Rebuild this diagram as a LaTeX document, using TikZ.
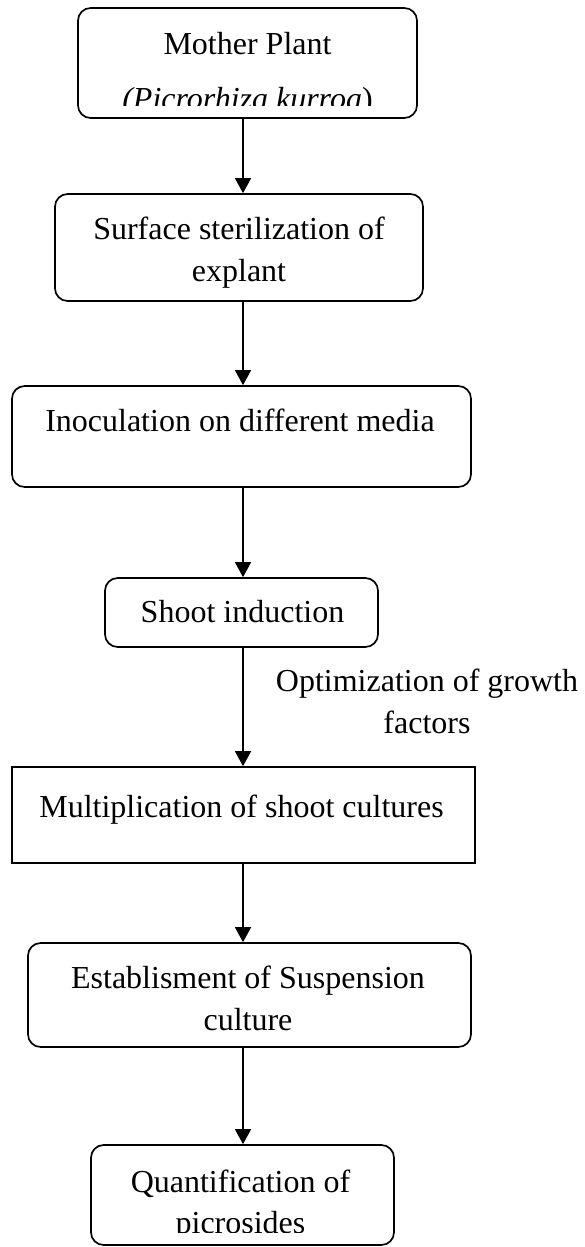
\documentclass[tikz,border=0pt]{standalone}
\usepackage{fontspec}
\setmainfont{Liberation Serif}
\usepackage{tikz}
\usetikzlibrary{arrows.meta}

\begin{document}
\begin{tikzpicture}[
  stage/.style={
    rectangle,
    rounded corners=9pt,
    draw=black,
    line width=1.2pt,
    inner sep=0pt
  },
  plain/.style={
    rectangle,
    draw=black,
    line width=1.2pt,
    inner sep=0pt
  },
  txt/.style={
    anchor=base,
    align=center,
    inner sep=0pt,
    font=\fontsize{22.76pt}{29.2pt}\selectfont
  },
  flow/.style={-{Triangle[length=0.375cm,width=0.4cm]}, line width=1pt}
]
\useasboundingbox (0,0) rectangle (14.6,-31.175);
\coordinate (axis) at (6.075,0);
% process boxes
\node[stage, minimum width=8.475cm,  minimum height=2.75cm]  (mother) at (6.1875,-1.575)  {};
\node[stage, minimum width=9.2cm,    minimum height=2.675cm] (surf)   at (5.975,-6.1875)  {};
\node[stage, minimum width=11.475cm, minimum height=2.525cm] (inoc)   at (6.0375,-10.9125) {};
\node[stage, minimum width=6.825cm,  minimum height=1.725cm] (shoot)  at (6.0375,-15.3125) {};
\node[plain, minimum width=11.575cm, minimum height=2.4cm]   (mult)   at (6.0875,-20.375)  {};
\node[stage, minimum width=11.075cm, minimum height=2.6cm]   (estab)  at (6.2375,-24.875)  {};
\node[stage, minimum width=7.575cm,  minimum height=2.5cm]   (quant)  at (6.0625,-29.875)  {};
% box texts (base = last line)
\node[txt] (mother-t) at (6.1875,-1.35)  {Mother Plant};
\node[txt] (surf-t)   at (5.975,-7.025)  {Surface sterilization of\\explant};
\node[txt] (inoc-t)   at (6.0,-10.775)   {Inoculation on different media};
\node[txt] (shoot-t)  at (6.0625,-15.55) {Shoot induction};
\node[txt] (mult-t)   at (6.0375,-20.425) {Multiplication of shoot cultures};
\node[txt] (estab-t)  at (6.2,-25.75)    {Establisment of Suspension\\culture};
\node[txt] (quant-t)  at (6.0125,-29.8)  {Quantification of};
% second lines cut off by the box
\begin{scope}
  \clip (mother.west |- 0,-2.0) rectangle (mother.east |- 0,-2.625);
  \node[txt] (mother-s) at (6.1875,-2.725) {\textit{(Picrorhiza kurroa})};
\end{scope}
\begin{scope}
  \clip (quant.west |- 0,-30.0) rectangle (quant.east |- 0,-30.8);
  \node[txt] (quant-s) at (6.0125,-30.825) {picrosides};
\end{scope}
% arrows
\draw[flow] (mother.south -| axis) -- (surf.north -| axis);
\draw[flow] (surf.south -| axis)   -- (inoc.north -| axis);
\draw[flow] (inoc.south -| axis)   -- (shoot.north -| axis);
\draw[flow] (shoot.south -| axis)  -- (mult.north -| axis);
\draw[flow] (mult.south -| axis)   -- (estab.north -| axis);
\draw[flow] (estab.south -| axis)  -- (quant.north -| axis);
\node[txt] (growth) at (10.675,-18.325) {Optimization of growth\\factors};
\end{tikzpicture}
\end{document}
